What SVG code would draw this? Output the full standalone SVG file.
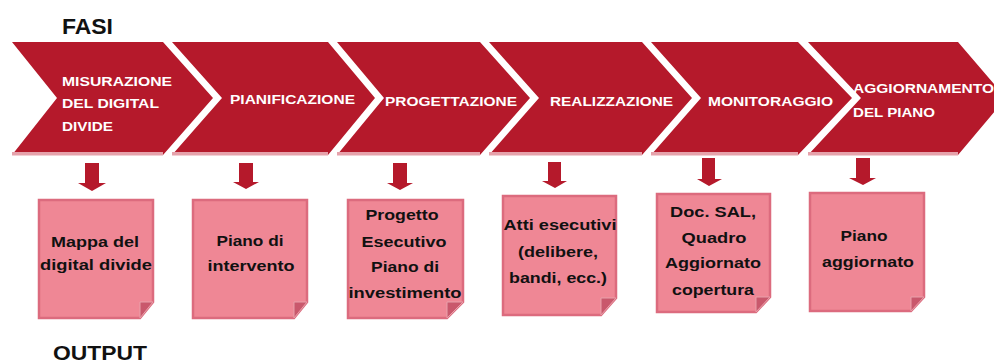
<svg xmlns="http://www.w3.org/2000/svg" width="994" height="364" viewBox="0 0 994 364">
  <style>
    .chev { fill: #b5192b; }
    .chev-base { fill: #e6a2ab; }
    .ptxt { font-family: "Liberation Sans", Arial, sans-serif; font-weight: bold; font-size: 13.5px; fill: #ffffff; }
    .note { fill: #ef8795; stroke: #dc6b7e; stroke-width: 2.5; }
    .fold { fill: #c9586c; stroke: #e8a0aa; stroke-width: 1; }
    .ntxt { font-family: "Liberation Sans", Arial, sans-serif; font-weight: bold; font-size: 14.5px; fill: #111111; text-anchor: middle; }
    .head { font-family: "Liberation Sans", Arial, sans-serif; font-weight: bold; font-size: 22px; fill: #111111; }
    .arrow { fill: #b5192b; }
  </style>

  <rect width="994" height="364" fill="#ffffff"/>

  <text class="head" x="62" y="34" textLength="51" lengthAdjust="spacingAndGlyphs">FASI</text>
  <text class="head" x="53" y="360" style="font-size:21px" textLength="94" lengthAdjust="spacingAndGlyphs">OUTPUT</text>

  <!-- phases (chevrons) -->
  <g id="fase-misurazione">
    <polygon class="chev" points="12,42 163,42 213,98 163,155 12,155 57,98"/>
    <rect class="chev-base" x="12" y="152" width="151" height="3.5"/>
    <text class="ptxt" x="62" y="86" textLength="110" lengthAdjust="spacingAndGlyphs">MISURAZIONE</text>
    <text class="ptxt" x="62" y="108" textLength="97" lengthAdjust="spacingAndGlyphs">DEL DIGITAL</text>
    <text class="ptxt" x="62" y="131" textLength="51" lengthAdjust="spacingAndGlyphs">DIVIDE</text>
  </g>
  <g id="fase-pianificazione">
    <polygon class="chev" points="172,42 328,42 375,98 328,155 172,155 222,98"/>
    <rect class="chev-base" x="172" y="152" width="156" height="3.5"/>
    <text class="ptxt" x="230" y="104" textLength="125" lengthAdjust="spacingAndGlyphs">PIANIFICAZIONE</text>
  </g>
  <g id="fase-progettazione">
    <polygon class="chev" points="337,42 480,42 530,98 480,155 337,155 384,98"/>
    <rect class="chev-base" x="337" y="152" width="143" height="3.5"/>
    <text class="ptxt" x="385" y="106" textLength="132" lengthAdjust="spacingAndGlyphs">PROGETTAZIONE</text>
  </g>
  <g id="fase-realizzazione">
    <polygon class="chev" points="489,42 642,42 692,98 642,155 489,155 539,98"/>
    <rect class="chev-base" x="489" y="152" width="153" height="3.5"/>
    <text class="ptxt" x="550" y="106" textLength="123" lengthAdjust="spacingAndGlyphs">REALIZZAZIONE</text>
  </g>
  <g id="fase-monitoraggio">
    <polygon class="chev" points="651,42 798,42 852,98 798,155 651,155 701,98"/>
    <rect class="chev-base" x="651" y="152" width="147" height="3.5"/>
    <text class="ptxt" x="708" y="106" textLength="125" lengthAdjust="spacingAndGlyphs">MONITORAGGIO</text>
  </g>
  <g id="fase-aggiornamento">
    <polygon class="chev" points="808,42 958,42 1006,98 958,155 808,155 861,98"/>
    <rect class="chev-base" x="808" y="152" width="150" height="3.5"/>
    <text class="ptxt" x="853" y="93" textLength="141" lengthAdjust="spacingAndGlyphs">AGGIORNAMENTO</text>
    <text class="ptxt" x="853" y="117" textLength="82" lengthAdjust="spacingAndGlyphs">DEL PIANO</text>
  </g>

  <!-- phase to output arrows -->
  <g id="connectors">
    <polygon class="arrow" points="85,163 99,163 99,183 106,183 92,191 78,183 85,183"/>
    <polygon class="arrow" points="239,163 253,163 253,182 259,182 246,189 233,182 239,182"/>
    <polygon class="arrow" points="393,163 407,163 407,183 413,183 400,190 387,183 393,183"/>
    <polygon class="arrow" points="548,162 561,162 561,181 567,181 555,188 542,181 548,181"/>
    <polygon class="arrow" points="702,158 715,158 715,179 722,179 709,186 697,179 702,179"/>
    <polygon class="arrow" points="856,158 870,158 870,178 876,178 863,185 849,178 856,178"/>
  </g>

  <!-- outputs (notes with folded corner) -->
  <g id="out-mappa">
    <polygon class="note" points="39,200 153,200 153,302 140,318 39,318"/>
    <polygon class="fold" points="153,302 140,302 140,318"/>
    <text class="ntxt" x="95" y="247" textLength="88" lengthAdjust="spacingAndGlyphs">Mappa del</text>
    <text class="ntxt" x="96" y="270" textLength="112" lengthAdjust="spacingAndGlyphs">digital divide</text>
  </g>
  <g id="out-piano-intervento">
    <polygon class="note" points="193,200 307,200 307,302 294,318 193,318"/>
    <polygon class="fold" points="307,302 294,302 294,318"/>
    <text class="ntxt" x="250" y="246" textLength="67" lengthAdjust="spacingAndGlyphs">Piano di</text>
    <text class="ntxt" x="251" y="271" textLength="87" lengthAdjust="spacingAndGlyphs">intervento</text>
  </g>
  <g id="out-progetto">
    <polygon class="note" points="348,200 463,200 463,302 447,318 348,318"/>
    <polygon class="fold" points="463,302 447,302 447,318"/>
    <text class="ntxt" x="402" y="220" textLength="73" lengthAdjust="spacingAndGlyphs">Progetto</text>
    <text class="ntxt" x="404" y="247" textLength="85" lengthAdjust="spacingAndGlyphs">Esecutivo</text>
    <text class="ntxt" x="405" y="272" textLength="68" lengthAdjust="spacingAndGlyphs">Piano di</text>
    <text class="ntxt" x="405" y="298" textLength="113" lengthAdjust="spacingAndGlyphs">investimento</text>
  </g>
  <g id="out-atti">
    <polygon class="note" points="503,196 616,196 616,298 601,315 503,315"/>
    <polygon class="fold" points="616,298 601,298 601,315"/>
    <text class="ntxt" x="560" y="230" textLength="113" lengthAdjust="spacingAndGlyphs">Atti esecutivi</text>
    <text class="ntxt" x="558" y="257" textLength="80" lengthAdjust="spacingAndGlyphs">(delibere,</text>
    <text class="ntxt" x="558" y="283" textLength="98" lengthAdjust="spacingAndGlyphs">bandi, ecc.)</text>
  </g>
  <g id="out-doc-sal">
    <polygon class="note" points="657,194 770,194 770,297 756,312 657,312"/>
    <polygon class="fold" points="770,297 756,297 756,312"/>
    <text class="ntxt" x="713" y="217" textLength="86" lengthAdjust="spacingAndGlyphs">Doc. SAL,</text>
    <text class="ntxt" x="714" y="243" textLength="65" lengthAdjust="spacingAndGlyphs">Quadro</text>
    <text class="ntxt" x="713" y="268" textLength="96" lengthAdjust="spacingAndGlyphs">Aggiornato</text>
    <text class="ntxt" x="713" y="295" textLength="82" lengthAdjust="spacingAndGlyphs">copertura</text>
  </g>
  <g id="out-piano-aggiornato">
    <polygon class="note" points="810,193 924,193 924,297 911,311 810,311"/>
    <polygon class="fold" points="924,297 911,297 911,311"/>
    <text class="ntxt" x="864" y="241" textLength="47" lengthAdjust="spacingAndGlyphs">Piano</text>
    <text class="ntxt" x="868" y="267" textLength="92" lengthAdjust="spacingAndGlyphs">aggiornato</text>
  </g>
</svg>
